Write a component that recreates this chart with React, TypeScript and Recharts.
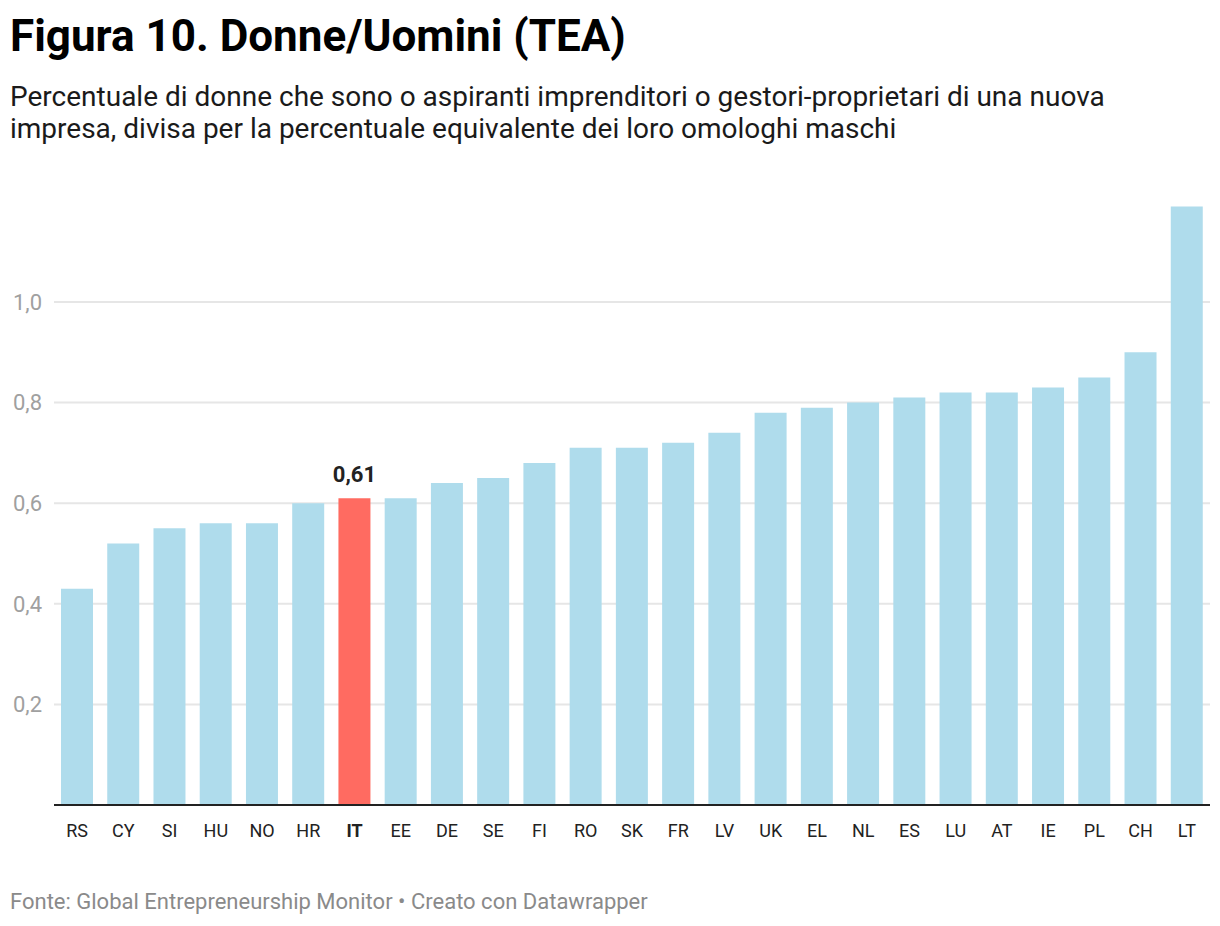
import React from 'react';
import { BarChart, Bar, XAxis, YAxis, CartesianGrid, Cell, LabelList } from 'recharts';

const countries = ['RS','CY','SI','HU','NO','HR','IT','EE','DE','SE','FI','RO','SK','FR','LV','UK','EL','NL','ES','LU','AT','IE','PL','CH','LT'];
const ratios = [0.43,0.52,0.55,0.56,0.56,0.60,0.61,0.61,0.64,0.65,0.68,0.71,0.71,0.72,0.74,0.78,0.79,0.80,0.81,0.82,0.82,0.83,0.85,0.90,1.19];
const yTicks = [0.2, 0.4, 0.6, 0.8, 1.0];
const highlight = 'IT';

const data = countries.map((c, i) => ({ country: c, value: ratios[i] }));

const FONT = 'Roboto, "Noto Sans", sans-serif';
const fmt = (v: number) => v.toFixed(2).replace('.', ',');

const XTick = (props: any) => {
  const { x, y, payload } = props;
  const bold = payload.value === highlight;
  return (
    <text x={x} y={y} dy={32} textAnchor="middle" fontFamily={FONT} fontSize={18}
      fontWeight={bold ? 700 : 400} fill="#222">{payload.value}</text>
  );
};

const YTick = (props: any) => {
  const { x, y, payload } = props;
  return (
    <text x={x} y={y} dy="0.355em" textAnchor="end" fontFamily={FONT} fontSize={22} fill="#a0a0a0">
      {Number(payload.value).toFixed(1).replace('.', ',')}
    </text>
  );
};

const HighlightLabel = (props: any) => {
  const { x, y, width, value, index } = props;
  if (countries[index] !== highlight) return null;
  return (
    <text x={x + width / 2} y={y - 16} textAnchor="middle" fontFamily={FONT} fontSize={22}
      fontWeight={700} fill="#222">{fmt(value)}</text>
  );
};

export default function App() {
  return (
    <div style={{ position: 'absolute', left: 0, top: 0, width: 1220, height: 926, background: '#fff', fontFamily: FONT }}>
      <div style={{ position: 'absolute', left: 10, top: 9.5, fontSize: 44, lineHeight: '52px', fontWeight: 700, color: '#000', whiteSpace: 'nowrap' }}>
        Figura 10. Donne/Uomini (TEA)
      </div>
      <div style={{ position: 'absolute', left: 10, top: 81, width: 1200, fontSize: 28, lineHeight: '32px', color: '#1a1a1a', whiteSpace: 'nowrap' }}>
        Percentuale di donne che sono o aspiranti imprenditori o gestori-proprietari di una nuova<br />
        impresa, divisa per la percentuale equivalente dei loro omologhi maschi
      </div>
      <div style={{ position: 'absolute', left: 0, top: 0 }}>
        <BarChart width={1220} height={926} data={data}
          margin={{ top: 201.4, right: 10, bottom: 91, left: 0 }}>
          <CartesianGrid horizontal vertical={false} stroke="#e6e6e6" strokeWidth={2} syncWithTicks />
          <YAxis type="number" domain={[0, 1.2]} ticks={yTicks} width={54} axisLine={false}
            tickLine={false} tickSize={0} tickMargin={12} tick={<YTick />} interval={0} />
          <XAxis dataKey="country" height={30} axisLine={{ stroke: '#222', strokeWidth: 2 }} tickLine={false}
            tickSize={0} tickMargin={0} tick={<XTick />} interval={0} />
          <Bar dataKey="value" barSize={32} isAnimationActive={false}>
            {data.map((d) => (
              <Cell key={d.country} fill={d.country === highlight ? '#ff6b61' : '#afdcec'} />
            ))}
            <LabelList dataKey="value" content={<HighlightLabel />} />
          </Bar>
        </BarChart>
      </div>
      <div style={{ position: 'absolute', left: 10, top: 888.5, fontSize: 22, lineHeight: '26px', color: '#8a8a8a', whiteSpace: 'nowrap' }}>
        Fonte: Global Entrepreneurship Monitor • Creato con Datawrapper
      </div>
    </div>
  );
}
